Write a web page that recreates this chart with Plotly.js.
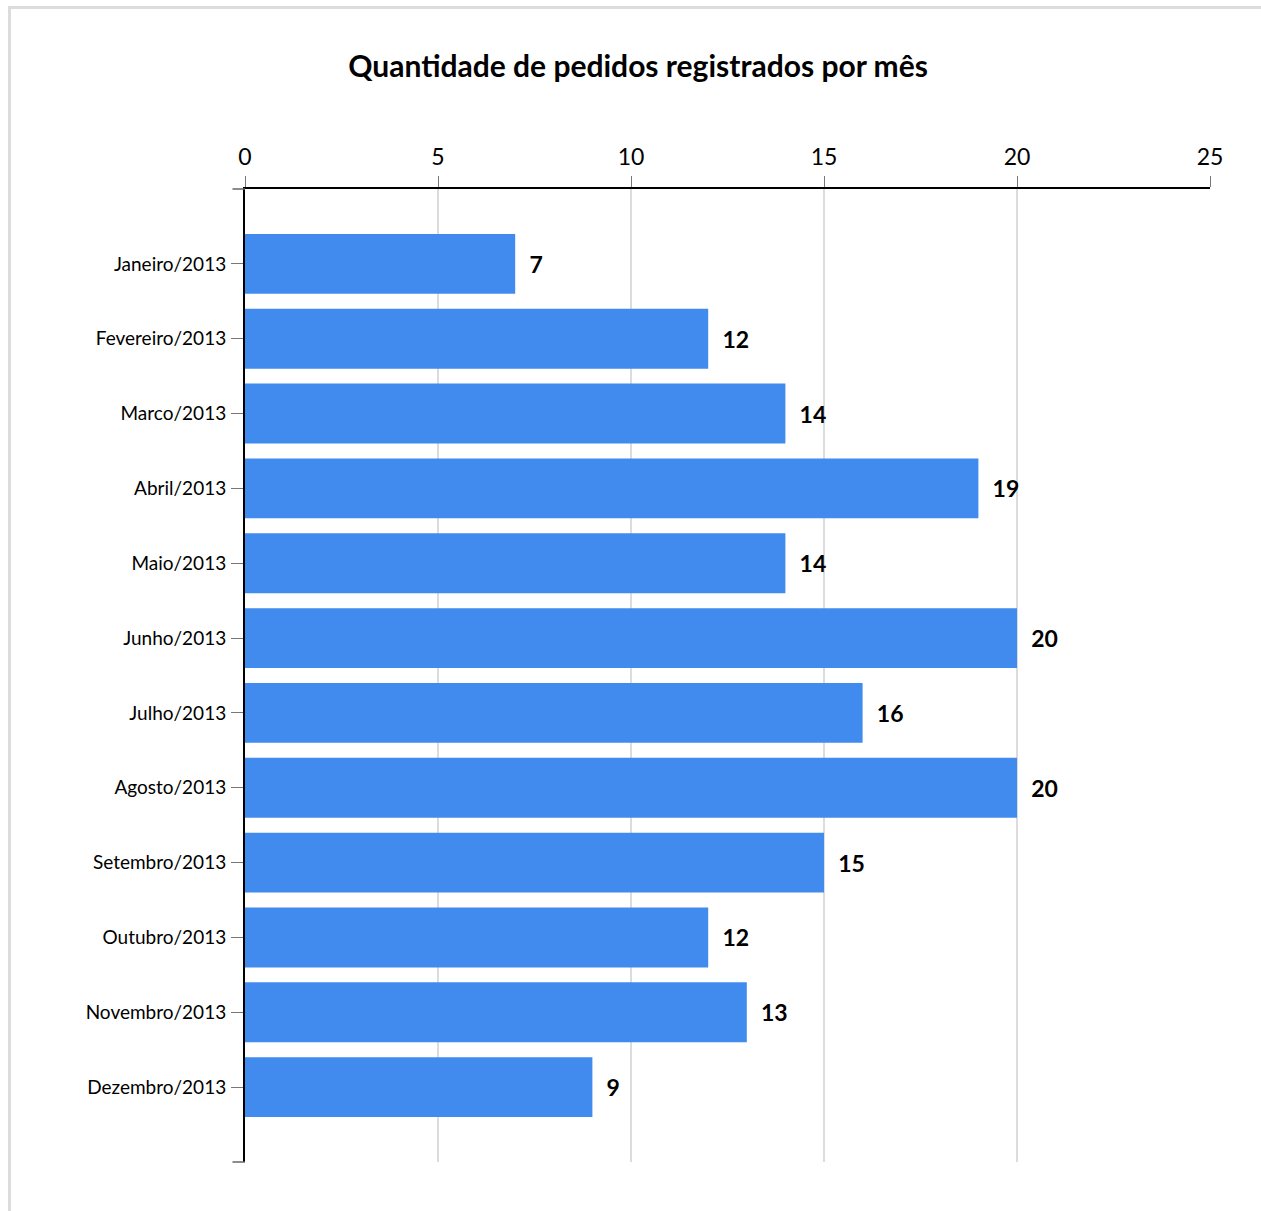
<!DOCTYPE html>
<html><head><meta charset="utf-8">
<script src="https://cdn.plot.ly/plotly-3.0.1.min.js"></script>
<style>
body{margin:0;padding:0;background:#fff;}
#frame{position:absolute;left:8px;top:6px;width:1253px;height:1205px;border-left:3px solid #dcdcdc;border-top:3px solid #dcdcdc;box-sizing:border-box;}
#chart{position:absolute;left:0;top:0;width:1261px;height:1211px;}
</style></head>
<body>
<div id="frame"></div>
<div id="chart"></div>
<script>
const months = ["Janeiro/2013","Fevereiro/2013","Marco/2013","Abril/2013","Maio/2013","Junho/2013","Julho/2013","Agosto/2013","Setembro/2013","Outubro/2013","Novembro/2013","Dezembro/2013"];
const pedidos = [7,12,14,19,14,20,16,20,15,12,13,9];
const xTicks = [0,5,10,15,20,25];
const FONT = "Lato, 'Open Sans', sans-serif";

const trace = {
  type: 'bar', orientation: 'h',
  x: pedidos, y: months,
  marker: {color: '#418BEE'},
  width: 0.8,
  text: pedidos.map(String),
  texttemplate: '  %{text}',
  textposition: 'outside',
  textfont: {family: FONT, size: 23, color: '#000', weight: 'bold'},
  cliponaxis: false,
  hoverinfo: 'none'
};

const cornerTick = {type: 'line', xref: 'paper', yref: 'paper', line: {color: '#666', width: 1.5}};
const layout = {
  width: 1261, height: 1211,
  paper_bgcolor: 'rgba(0,0,0,0)', plot_bgcolor: 'rgba(0,0,0,0)',
  margin: {l: 245, r: 51, t: 189, b: 49},
  title: {text: 'Quantidade de pedidos registrados por mês', xref: 'container', x: 0.506, xanchor: 'center', yref: 'container', y: 0.945, yanchor: 'middle',
          font: {family: FONT, size: 30, color: '#000', weight: 'bold'}},
  showlegend: false,
  shapes: [
    Object.assign({}, cornerTick, {x0: -0.013, x1: 0, y0: 1, y1: 1}),
    Object.assign({}, cornerTick, {x0: -0.013, x1: 0, y0: 0, y1: 0})
  ],
  xaxis: {side: 'top', range: [0, 25], tickvals: xTicks, ticktext: xTicks.map(String),
          showgrid: true, gridcolor: '#dcdcdc', gridwidth: 2, zeroline: false,
          showline: true, linecolor: '#000', linewidth: 2,
          ticks: 'outside', ticklen: 11, tickcolor: '#777', tickwidth: 1,
          ticklabelstandoff: 2,
          tickfont: {family: FONT, size: 23, color: '#000'}, fixedrange: true},
  yaxis: {type: 'category', categoryarray: months, range: [12, -1],
          showgrid: false, zeroline: false, showline: true, linecolor: '#000', linewidth: 2,
          ticks: 'outside', ticklen: 12, tickcolor: '#777', tickwidth: 1,
          ticklabelstandoff: 1,
          tickfont: {family: FONT, size: 19, color: '#000'}, fixedrange: true}
};

Plotly.newPlot('chart', [trace], layout, {displayModeBar: false, staticPlot: true});
</script>
</body></html>
